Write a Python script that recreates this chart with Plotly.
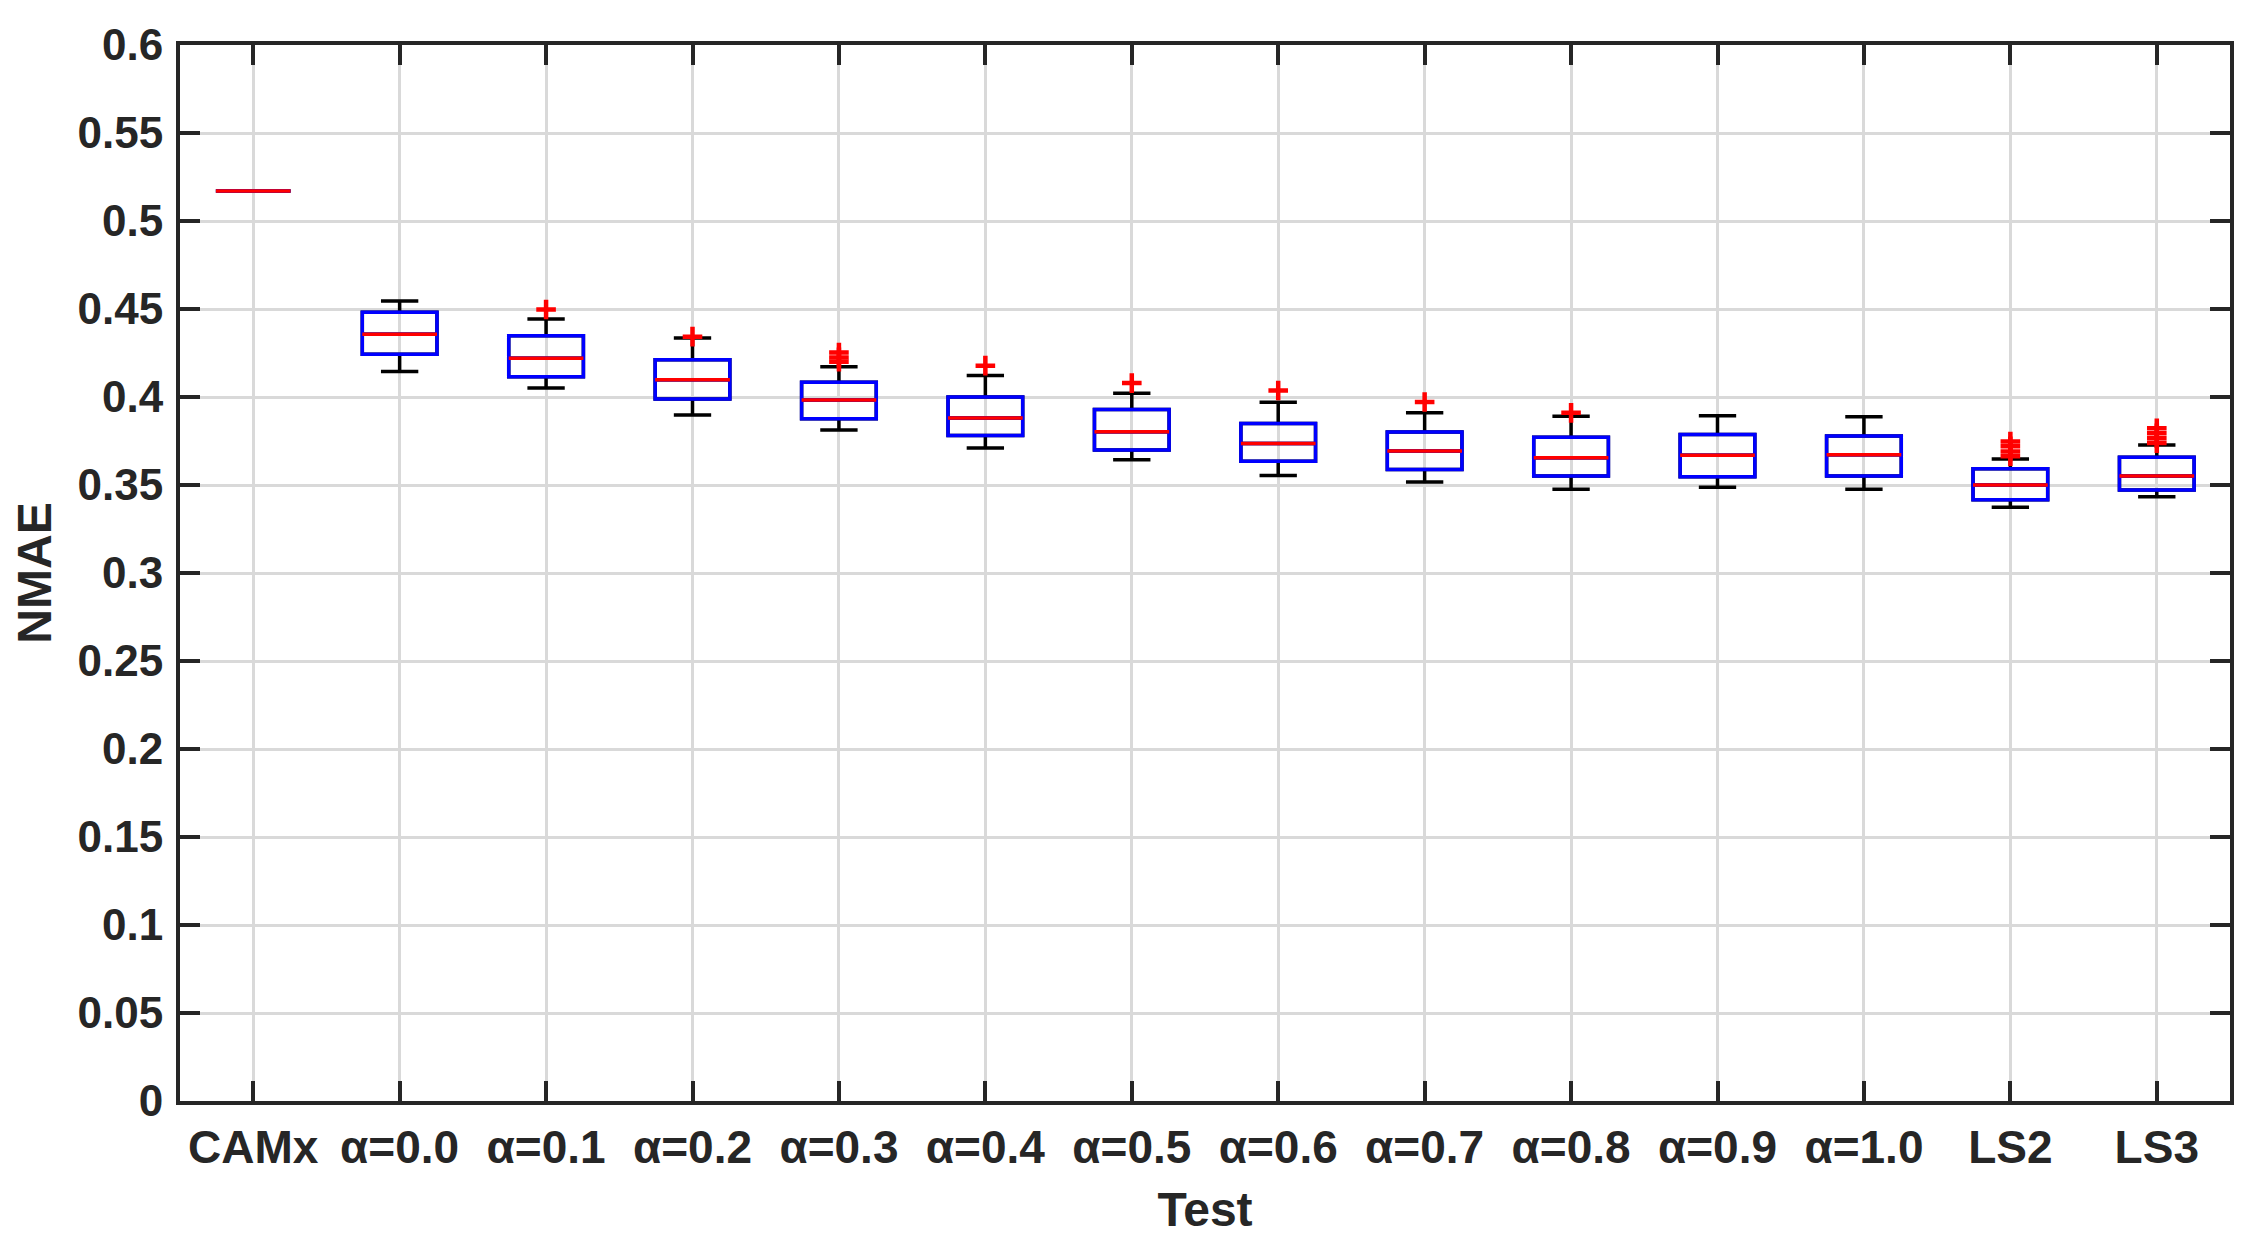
import plotly.graph_objects as go

categories = ["CAMx", "α=0.0", "α=0.1", "α=0.2", "α=0.3", "α=0.4", "α=0.5",
              "α=0.6", "α=0.7", "α=0.8", "α=0.9", "α=1.0", "LS2", "LS3"]
lower_whisker = [0.517, 0.4145, 0.4051, 0.3898, 0.3813, 0.3710, 0.3644,
                 0.3554, 0.3517, 0.3476, 0.3487, 0.3476, 0.3373, 0.3433]
q1_values = [0.517, 0.4243, 0.4115, 0.3989, 0.3876, 0.3781, 0.3699,
             0.3635, 0.3588, 0.3551, 0.3547, 0.3551, 0.3416, 0.3472]
median_values = [0.517, 0.4356, 0.4220, 0.4098, 0.3983, 0.3880, 0.3803,
                 0.3736, 0.3693, 0.3655, 0.3669, 0.3672, 0.3500, 0.3551]
q3_values = [0.517, 0.4482, 0.4348, 0.4211, 0.4084, 0.4000, 0.3929,
             0.3850, 0.3801, 0.3772, 0.3787, 0.3779, 0.3592, 0.3657]
upper_whisker = [0.517, 0.4546, 0.4443, 0.4335, 0.4172, 0.4122, 0.4022,
                 0.3970, 0.3910, 0.3891, 0.3893, 0.3888, 0.3648, 0.3727]
outlier_test = ["α=0.1", "α=0.2", "α=0.3", "α=0.3", "α=0.3", "α=0.4", "α=0.5",
                "α=0.6", "α=0.7", "α=0.8", "LS2", "LS2", "LS2", "LS2",
                "LS3", "LS3", "LS3", "LS3"]
outlier_values = [0.4497, 0.4343, 0.4253, 0.4225, 0.4200, 0.4178, 0.4079,
                  0.4037, 0.3972, 0.3910, 0.3747, 0.3720, 0.3690, 0.3663,
                  0.3822, 0.3794, 0.3766, 0.3738]
y_ticks = [0, 0.05, 0.1, 0.15, 0.2, 0.25, 0.3, 0.35, 0.4, 0.45, 0.5, 0.55, 0.6]
y_tick_labels = ["0", "0.05", "0.1", "0.15", "0.2", "0.25", "0.3", "0.35",
                 "0.4", "0.45", "0.5", "0.55", "0.6"]

FONT = "Liberation Sans, Arial, Helvetica, sans-serif"
TXT = "#262626"
BOXW = 0.51
LW = 3.5

fig = go.Figure()
# whiskers (black)
fig.add_trace(go.Box(
    x=categories, q1=q1_values, median=median_values, q3=q3_values,
    lowerfence=lower_whisker, upperfence=upper_whisker,
    width=BOXW, whiskerwidth=0.5, boxpoints=False,
    line=dict(color="black", width=LW), fillcolor="rgba(0,0,0,0)",
    showlegend=False, hoverinfo="skip"))
# box (blue)
fig.add_trace(go.Box(
    x=categories, q1=q1_values, median=median_values, q3=q3_values,
    lowerfence=q1_values, upperfence=q3_values,
    width=BOXW, whiskerwidth=0, boxpoints=False,
    line=dict(color="#0000ff", width=LW), fillcolor="rgba(0,0,0,0)",
    showlegend=False, hoverinfo="skip"))
# median (red)
fig.add_trace(go.Box(
    x=categories, q1=median_values, median=median_values, q3=median_values,
    lowerfence=median_values, upperfence=median_values,
    width=BOXW, whiskerwidth=0, boxpoints=False,
    line=dict(color="#ff0000", width=LW), fillcolor="rgba(0,0,0,0)",
    showlegend=False, hoverinfo="skip"))
# outliers
fig.add_trace(go.Scatter(
    x=outlier_test, y=outlier_values, mode="markers",
    marker=dict(symbol="cross-thin", size=14, color="#ff0000",
                line=dict(color="#ff0000", width=4.5)),
    showlegend=False))

axis_common = dict(
    showline=True, linecolor=TXT, linewidth=4, mirror="ticks",
    ticks="inside", ticklen=20, tickwidth=3.5, tickcolor=TXT,
    showgrid=True, gridcolor="#d9d9d9", gridwidth=3, zeroline=False,
)
fig.update_layout(
    width=2262, height=1253,
    margin=dict(l=172, r=40, t=29, b=160),
    paper_bgcolor="white", plot_bgcolor="white",
    boxmode="overlay",
    font=dict(family=FONT, color=TXT, weight="bold"),
    xaxis=dict(
        **axis_common, type="category", categoryorder="array",
        categoryarray=categories, range=[-0.5, len(categories) - 0.5],
        tickfont=dict(size=46, family=FONT, color=TXT, weight="bold"),
        ticklabelstandoff=3,
        title=dict(text="Test", standoff=21,
                   font=dict(size=48, family=FONT, color=TXT, weight="bold")),
    ),
    yaxis=dict(
        **axis_common, range=[0, 0.6], tickvals=y_ticks, ticktext=y_tick_labels,
        tickfont=dict(size=44, family=FONT, color=TXT, weight="bold"),
        ticklabelstandoff=4,
        title=dict(text="NMAE", standoff=12,
                   font=dict(size=48, family=FONT, color=TXT, weight="bold")),
    ),
)

fig.write_html("out.html")
